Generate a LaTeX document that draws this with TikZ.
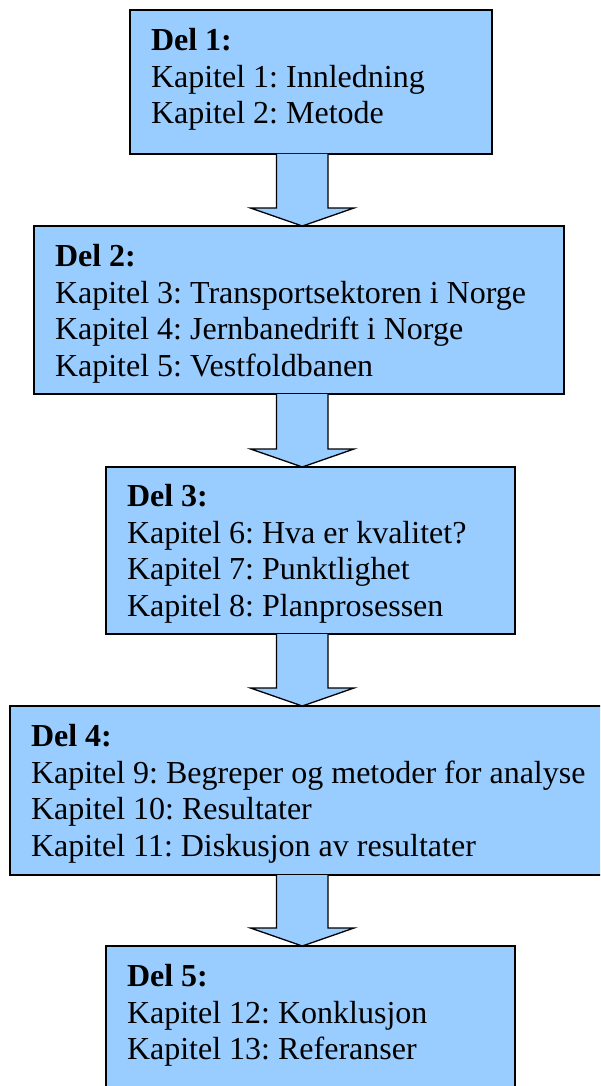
\documentclass[tikz,border=0pt]{standalone}
\usepackage{fontspec}
\setmainfont{Liberation Serif}
\frenchspacing
\usetikzlibrary{calc}
\definecolor{boxblue}{HTML}{99CCFF}
\tikzset{
  box/.style={draw=black, fill=boxblue, line width=1.3pt, inner sep=0pt, outer sep=0pt, anchor=north west},
  boxtext/.style={anchor=base west, inner sep=0pt, outer sep=0pt, font=\fontsize{32}{36.6}\selectfont\frenchspacing},
  blockarrow/.style={draw=black, fill=boxblue, line width=1.3pt, line join=miter},
}
\newcommand{\blockconnect}[2]{%
  \draw[blockarrow] (276.5,0 |- #1.south)
    -- ($(276.5,0 |- #2.north)+(0,-18)$)
    -- ($(250.5,0 |- #2.north)+(0,-18)$)
    -- (302.3,0 |- #2.north)
    -- ($(354,0 |- #2.north)+(0,-18)$)
    -- ($(328,0 |- #2.north)+(0,-18)$)
    -- (328,0 |- #1.south);}
\begin{document}
\begin{tikzpicture}[x=1pt,y=-1pt]
\useasboundingbox (0,0) rectangle (600,1086);
\clip (0,0) rectangle (600,1086);
\node[box, minimum width=362pt, minimum height=144pt] (b1) at (130,10) {};
\node[box, minimum width=530pt, minimum height=168pt] (b2) at (34,226) {};
\node[box, minimum width=409pt, minimum height=167pt] (b3) at (106,467) {};
\node[box, minimum width=600pt, minimum height=169pt] (b4) at (10,706) {};
\node[box, minimum width=409pt, minimum height=160pt] (b5) at (106,946) {};
\node[boxtext] (t1) at ($(b1.north west)+(21,40.5)$) {\begin{tabular}[t]{@{}l@{}}\textbf{Del 1:}\\Kapitel 1: Innledning\\Kapitel 2: Metode\end{tabular}};
\node[boxtext] (t2) at ($(b2.north west)+(21,40.5)$) {\begin{tabular}[t]{@{}l@{}}\textbf{Del 2:}\\Kapitel 3: Transportsektoren i Norge\\Kapitel 4: Jernbanedrift i Norge\\Kapitel 5: Vestfoldbanen\end{tabular}};
\node[boxtext] (t3) at ($(b3.north west)+(21,39.5)$) {\begin{tabular}[t]{@{}l@{}}\textbf{Del 3:}\\Kapitel 6: Hva er kvalitet?\\Kapitel 7: Punktlighet\\Kapitel 8: Planprosessen\end{tabular}};
\node[boxtext] (t4) at ($(b4.north west)+(21,40.5)$) {\begin{tabular}[t]{@{}l@{}}\textbf{Del 4:}\\Kapitel 9: Begreper og metoder for analyse\\Kapitel 10: Resultater\\Kapitel 11: Diskusjon av resultater\end{tabular}};
\node[boxtext] (t5) at ($(b5.north west)+(21,40.5)$) {\begin{tabular}[t]{@{}l@{}}\textbf{Del 5:}\\Kapitel 12: Konklusjon\\Kapitel 13: Referanser\end{tabular}};
\blockconnect{b1}{b2}
\blockconnect{b2}{b3}
\blockconnect{b3}{b4}
\blockconnect{b4}{b5}
\end{tikzpicture}
\end{document}
